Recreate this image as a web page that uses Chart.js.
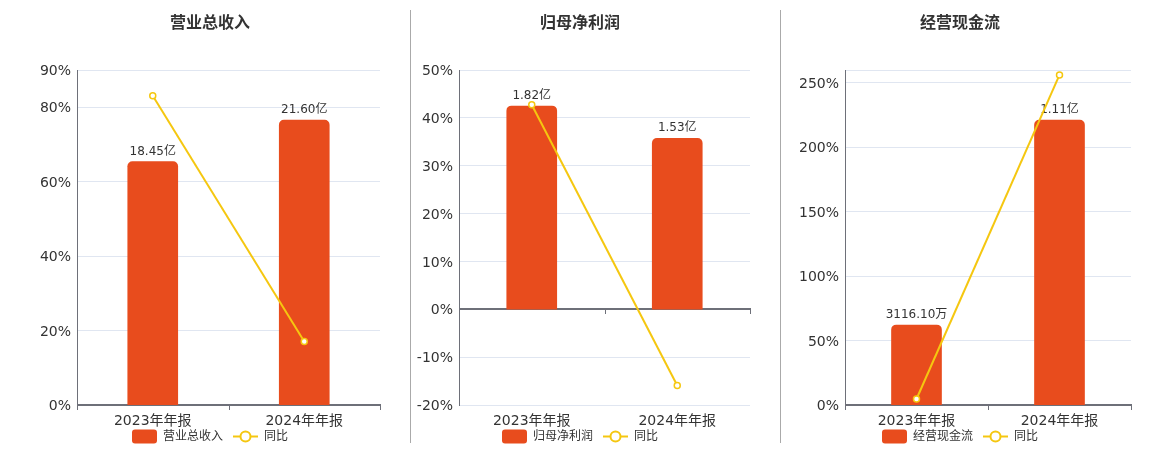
<!DOCTYPE html>
<html><head><meta charset="utf-8">
<script src="https://cdn.jsdelivr.net/npm/chart.js@4"></script>
<style>
html,body{margin:0;padding:0;background:#fff;}
#wrap{position:relative;width:1160px;height:450px;overflow:hidden;background:#fff;}
.c{position:absolute;top:0;height:450px;}
.sep{position:absolute;top:10px;height:433px;width:1px;background:#aaaaaa;}
</style></head><body>
<div id="wrap">
<div class="c" style="left:0;width:405px"><canvas id="c1"></canvas></div>
<div class="sep" style="left:410px"></div>
<div class="c" style="left:411px;width:369px"><canvas id="c2"></canvas></div>
<div class="sep" style="left:780px"></div>
<div class="c" style="left:781px;width:379px"><canvas id="c3"></canvas></div>
</div>
<script>
// ---- data ----
const categories = ['2023年年报', '2024年年报'];
const titles = ['营业总收入', '归母净利润', '经营现金流'];
const yoyName = '同比';

const revenueValues = [18.45, 21.60];     // 亿
const revenueYoY = [83.1, 17.07];         // %
const profitValues = [1.82, 1.53];        // 亿
const profitYoY = [42.75, -15.93];        // %
const cashValues = [0.311610, 1.11];      // 亿 (3116.10万)
const cashYoY = [4.66, 256.2];            // %

const revenueTicks = [0, 20, 40, 60, 80, 90];
const profitTicks = [-20, -10, 0, 10, 20, 30, 40, 50];
const cashTicks = [0, 50, 100, 150, 200, 250];
const cashAxisMax = 260;

// ---- style ----
const FONT = '"DejaVu Sans", "Noto Sans CJK SC", sans-serif';
const BAR = '#e84c1d';
const LINE = '#f5c710';
const TXT = '#333333';
const AXIS = '#6e7079';
const GRID = '#e0e6f1';
Chart.defaults.font.family = FONT;
Chart.defaults.color = TXT;

function fmt(v){
  return v < 1 ? (v * 10000).toFixed(2) + '万' : v.toFixed(2) + '亿';
}

const decor = {
  id: 'decor',
  beforeDatasetsDraw(chart, args, opts){
    const ctx = chart.ctx, x = chart.scales.x, y = chart.scales.y;
    const y0 = Math.round(y.getPixelForValue(0));
    const n = chart.data.labels.length;
    ctx.save();
    ctx.strokeStyle = AXIS;
    ctx.lineWidth = 1;
    for (let i = 0; i <= n; i++){
      const px = Math.round(x.getPixelForValue(i - 0.5)) + 0.5;
      ctx.beginPath(); ctx.moveTo(px, y0); ctx.lineTo(px, y0 + 5); ctx.stroke();
    }
    ctx.lineWidth = 2;
    ctx.beginPath(); ctx.moveTo(chart.chartArea.left, y0); ctx.lineTo(chart.chartArea.right + 1, y0); ctx.stroke();
    ctx.restore();
  },
  afterDatasetDraw(chart, args, opts){
    if (args.index !== 0) return;
    const ctx = chart.ctx;
    const meta = chart.getDatasetMeta(0);
    ctx.save();
    ctx.font = '12px ' + FONT;
    ctx.fillStyle = TXT;
    ctx.textAlign = 'center';
    ctx.textBaseline = 'bottom';
    meta.data.forEach((el, i) => {
      const v = chart.data.datasets[0].data[i];
      ctx.fillText(fmt(v), el.x, el.y - 4);
    });
    ctx.restore();
  },
  afterDraw(chart, args, opts){
    const ctx = chart.ctx;
    ctx.save();
    // title
    ctx.font = 'bold 16px ' + FONT;
    ctx.fillStyle = TXT;
    ctx.textAlign = 'center';
    ctx.textBaseline = 'middle';
    ctx.fillText(opts.title, opts.cx, 23.5);
    // legend
    const name = chart.data.datasets[0].label, name2 = chart.data.datasets[1].label;
    ctx.font = '12px ' + FONT;
    const w1 = ctx.measureText(name).width, w2 = ctx.measureText(name2).width;
    const total = 25 + 6 + w1 + 10 + 25 + 6 + w2;
    let lx = opts.cx - total / 2;
    const cy = 436.5;
    ctx.fillStyle = BAR;
    ctx.beginPath();
    ctx.roundRect(lx, cy - 7, 25, 14, 3);
    ctx.fill();
    lx += 31;
    ctx.fillStyle = TXT;
    ctx.textAlign = 'left';
    ctx.fillText(name, lx, cy);
    lx += w1 + 10;
    ctx.strokeStyle = LINE;
    ctx.lineWidth = 2;
    ctx.beginPath(); ctx.moveTo(lx, cy); ctx.lineTo(lx + 25, cy); ctx.stroke();
    ctx.beginPath(); ctx.arc(lx + 12.5, cy, 5, 0, Math.PI * 2);
    ctx.fillStyle = '#fff'; ctx.fill(); ctx.stroke();
    lx += 31;
    ctx.fillStyle = TXT;
    ctx.fillText(name2, lx, cy);
    ctx.restore();
  }
};

function makeChart(id, cfg){
  const labelled = cfg.ticks;
  const allTicks = labelled.includes(cfg.pctMax) ? labelled.slice() : labelled.concat([cfg.pctMax]);
  return new Chart(document.getElementById(id), {
    data: {
      labels: categories,
      datasets: [
        { type: 'bar', label: cfg.title, data: cfg.values, yAxisID: 'yBar', order: 1,
          backgroundColor: BAR, barThickness: 50, borderRadius: 5 },
        { type: 'line', label: yoyName, data: cfg.yoy, yAxisID: 'y', order: 0,
          borderColor: LINE, borderWidth: 2, pointRadius: 3, pointBorderWidth: 1.5,
          pointBackgroundColor: '#fff', pointBorderColor: LINE, tension: 0, fill: false }
      ]
    },
    options: {
      responsive: true, maintainAspectRatio: false, animation: false,
      devicePixelRatio: 1,
      layout: { padding: { top: 70, left: 0, right: cfg.padRight, bottom: 0 } },
      plugins: { legend: { display: false }, title: { display: false }, tooltip: { enabled: false },
        decor: { title: cfg.title, cx: cfg.cx } },
      scales: {
        x: { type: 'category', offset: true,
          grid: { display: false, drawTicks: false }, border: { display: false },
          ticks: { color: TXT, font: { size: 14 }, padding: 8, maxRotation: 0, autoSkip: false },
          afterFit(s){ s.height = 45; } },
        y: { type: 'linear', position: 'left', min: cfg.pctMin, max: cfg.pctMax,
          grid: { color: GRID, drawTicks: false },
          border: { display: true, color: AXIS, width: 1 },
          ticks: { color: TXT, font: { size: 14 }, padding: 6, labelOffset: 1.5,
            callback: v => labelled.includes(v) ? v + '%' : '' },
          afterBuildTicks(s){ s.ticks = allTicks.map(v => ({ value: v })); },
          afterFit(s){ s.width = cfg.axisW; } },
        yBar: { type: 'linear', display: false, min: cfg.barMin, max: cfg.barMax }
      }
    },
    plugins: [decor]
  });
}

makeChart('c1', { title: titles[0], values: revenueValues, yoy: revenueYoY, ticks: revenueTicks,
  pctMin: 0, pctMax: 90, barMin: 0, barMax: 25.39, axisW: 77, padRight: 25, cx: 210 });
makeChart('c2', { title: titles[1], values: profitValues, yoy: profitYoY, ticks: profitTicks,
  pctMin: -20, pctMax: 50, barMin: -0.857, barMax: 2.142, axisW: 48, padRight: 30, cx: 169 });
makeChart('c3', { title: titles[2], values: cashValues, yoy: cashYoY, ticks: cashTicks,
  pctMin: 0, pctMax: cashAxisMax, barMin: 0, barMax: 1.3047, axisW: 64, padRight: 29, cx: 179 });
</script>
</body></html>
